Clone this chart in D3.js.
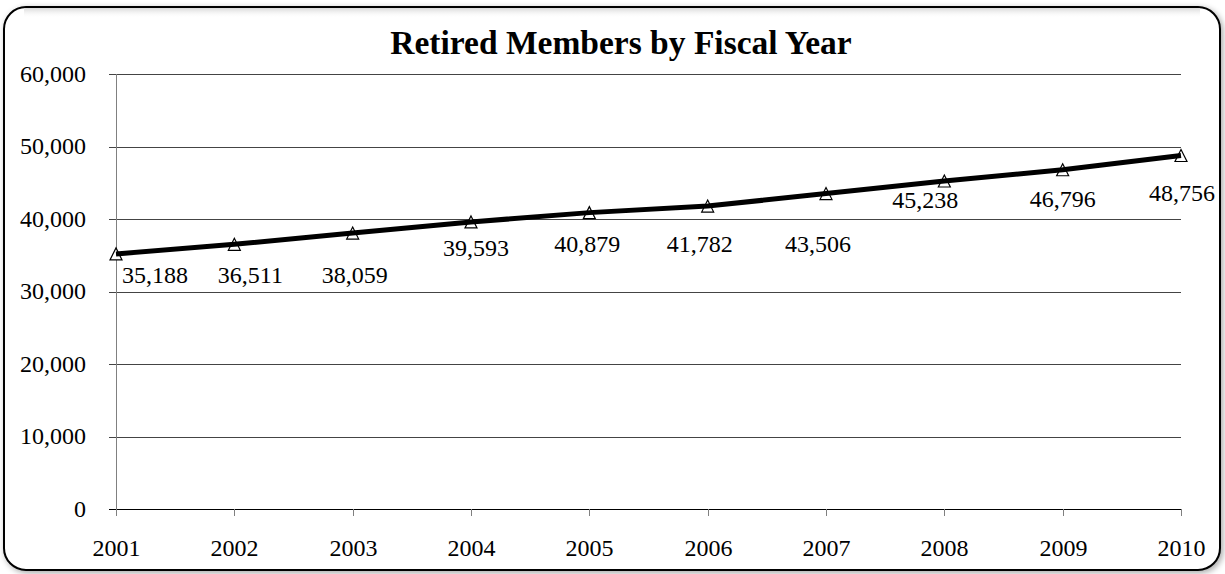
<!DOCTYPE html>
<html>
<head>
<meta charset="utf-8">
<script src="https://cdn.jsdelivr.net/npm/d3@7"></script>
<style>
  body { margin: 0; background: #fff; }
  text { font-family: "Liberation Serif", "Times New Roman", serif; fill: #000; }
</style>
</head>
<body>
<svg id="chart" width="1225" height="574"></svg>
<script>
// data
var years = [2001, 2002, 2003, 2004, 2005, 2006, 2007, 2008, 2009, 2010];
var members = [35188, 36511, 38059, 39593, 40879, 41782, 43506, 45238, 46796, 48756];
var yTicks = [0, 10000, 20000, 30000, 40000, 50000, 60000];

// where excel dropped each data label, relative to its marker (px)
var labelDx = [39, 16, 2, 5, -2, -8, -8, -19, 0, 1];
var labelDy = [29, 39, 50, 34, 39, 46, 58, 27, 37, 45];

var svg = d3.select("#chart");
var plotLeft = 116, plotRight = 1181, plotTop = 74, plotBottom = 509;

var fmt = d3.format(",");

var x = d3.scalePoint()
  .domain(years)
  .range([plotLeft, plotRight]);

var y = d3.scaleLinear()
  .domain([0, 60000])
  .range([plotBottom, plotTop]);

// frame with soft shadow
var defs = svg.append("defs");
var f = defs.append("filter").attr("id", "shadow")
  .attr("x", "-5%").attr("y", "-5%").attr("width", "110%").attr("height", "110%");
f.append("feGaussianBlur").attr("in", "SourceAlpha").attr("stdDeviation", 3).attr("result", "b");
f.append("feOffset").attr("in", "b").attr("dx", 2).attr("dy", 2).attr("result", "o");
f.append("feComponentTransfer").attr("in", "o").attr("result", "s")
  .append("feFuncA").attr("type", "linear").attr("slope", 0.35);
var m = f.append("feMerge");
m.append("feMergeNode").attr("in", "s");
m.append("feMergeNode").attr("in", "SourceGraphic");

svg.append("rect")
  .attr("x", 4).attr("y", 7)
  .attr("width", 1216).attr("height", 563)
  .attr("rx", 22).attr("ry", 22)
  .attr("fill", "#fff")
  .attr("stroke", "#000")
  .attr("stroke-width", 2)
  .attr("filter", "url(#shadow)");

// faint inner shade along the top edge
var g0 = defs.append("linearGradient").attr("id", "topShade")
  .attr("x1", 0).attr("y1", 0).attr("x2", 0).attr("y2", 1);
g0.append("stop").attr("offset", 0).attr("stop-color", "#d8d8d8");
g0.append("stop").attr("offset", 1).attr("stop-color", "#fff").attr("stop-opacity", 0);
svg.append("rect")
  .attr("x", 24).attr("y", 8)
  .attr("width", 1176).attr("height", 10)
  .attr("fill", "url(#topShade)");

// title
svg.append("text")
  .attr("x", 621).attr("y", 54)
  .attr("text-anchor", "middle")
  .style("font-size", "33.5px")
  .style("font-weight", "bold")
  .text("Retired Members by Fiscal Year");

// horizontal gridlines (they stick out left as tick marks)
svg.append("g")
  .selectAll("line")
  .data(yTicks)
  .enter().append("line")
  .attr("x1", plotLeft - 7).attr("x2", plotRight)
  .attr("y1", function (d) { return Math.round(y(d)) + 0.5; })
  .attr("y2", function (d) { return Math.round(y(d)) + 0.5; })
  .attr("stroke", function (d) { return d === 0 ? "#000" : "#444"; })
  .attr("stroke-width", 1);

// y labels
svg.append("g")
  .selectAll("text")
  .data(yTicks)
  .enter().append("text")
  .attr("x", 86)
  .attr("y", function (d) { return y(d); })
  .attr("dy", "0.33em")
  .attr("text-anchor", "end")
  .style("font-size", "24px")
  .text(fmt);

// vertical axis line
svg.append("line")
  .attr("x1", plotLeft + 0.5).attr("x2", plotLeft + 0.5)
  .attr("y1", plotTop).attr("y2", plotBottom + 7)
  .attr("stroke", "#808080");

// x ticks and labels
var xt = svg.append("g")
  .selectAll("g")
  .data(years)
  .enter().append("g")
  .attr("transform", function (d) { return "translate(" + (Math.round(x(d)) + 0.5) + ",0)"; });

xt.append("line")
  .attr("y1", plotBottom).attr("y2", plotBottom + 7)
  .attr("stroke", "#808080");

xt.append("text")
  .attr("y", 556)
  .attr("text-anchor", "middle")
  .style("font-size", "24px")
  .text(function (d) { return d; });

// series
var pts = years.map(function (yr, i) { return { year: yr, value: members[i], i: i }; });

// markers first, the thick line covers part of them
svg.append("g")
  .selectAll("path")
  .data(pts)
  .enter().append("path")
  .attr("d", "M0,-6L6,6L-6,6Z")
  .attr("transform", function (d) { return "translate(" + x(d.year) + "," + y(d.value) + ")"; })
  .attr("fill", "#fff")
  .attr("stroke", "#000")
  .attr("stroke-width", 1.2);

var line = d3.line()
  .x(function (d) { return x(d.year); })
  .y(function (d) { return y(d.value); });

svg.append("path")
  .datum(pts)
  .attr("d", line)
  .attr("fill", "none")
  .attr("stroke", "#000")
  .attr("stroke-width", 5)
  .attr("stroke-linejoin", "round");

// data labels
svg.append("g")
  .selectAll("text")
  .data(pts)
  .enter().append("text")
  .attr("x", function (d) { return x(d.year) + labelDx[d.i]; })
  .attr("y", function (d) { return y(d.value) + labelDy[d.i]; })
  .attr("text-anchor", "middle")
  .style("font-size", "24px")
  .text(function (d) { return fmt(d.value); });
</script>
</body>
</html>
